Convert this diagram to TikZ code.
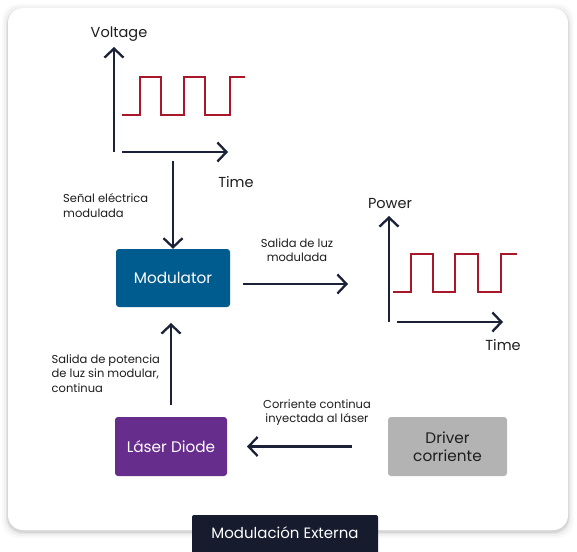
\documentclass[tikz,border=0pt]{standalone}
\usepackage{fontspec}
\setmainfont{Poppins}
\usetikzlibrary{arrows.meta}
\definecolor{navy}{HTML}{1B2238}
\definecolor{wave}{HTML}{A8172A}
\definecolor{modblue}{HTML}{005B8E}
\definecolor{laserpurple}{HTML}{672D8C}
\definecolor{drivergray}{HTML}{B3B3B3}
\definecolor{tagnavy}{HTML}{161C2E}
\definecolor{txt}{HTML}{1E1E1E}
\tikzset{
  x=1pt, y=-1pt,
  axis/.style={draw=navy, line width=2.6pt, -{Straight Barb[length=9pt,width=19pt,line width=2.3pt]}},
  conn/.style={draw=navy, line width=2.6pt, -{Straight Barb[length=9pt,width=19pt,line width=2.3pt]}},
  sq/.style={draw=wave, line width=2pt},
  boxstyle/.style={rounded corners=3pt, minimum width=113pt, minimum height=59pt, inner sep=0pt, align=center, font=\fontsize{15.3}{18.5}\selectfont},
  lbl/.style={text=txt, font=\fontsize{11.5}{14.5}\selectfont, inner sep=0pt},
  axlbl/.style={text=txt, font=\fontsize{14.5}{16}\selectfont, inner sep=0pt},
}
\begin{document}
\begin{tikzpicture}
\useasboundingbox (0,0) rectangle (577,551);
\fill[white] (0,0) rectangle (577,551);
% card shadow
\foreach \d/\o in {6/0.02,4/0.03,2/0.05,1/0.06}{
  \fill[black, opacity=\o, rounded corners=16pt] (8-\d,8-\d+2) rectangle (568+\d,530+\d+2);
}
\fill[white, rounded corners=15pt] (8,8) rectangle (568,530);

% Voltage plot
\node[axlbl] (vlab) at (119,34) {Voltage};
\coordinate (vo) at (114,152);
\coordinate (vtop) at (114,47);
\coordinate (vxs) at (122,152);
\coordinate (vxe) at (228,152);
\draw[axis] (vo) -- (vtop);
\draw[axis] (vxs) -- (vxe);
\node[axlbl] (vtime) at (236,182) {Time};
\draw[sq] (122,115) -- (140,115) -- (140,77) -- (161,77) -- (161,115) -- (184,115) -- (184,77) -- (205,77) -- (205,115) -- (230,115) -- (230,77) -- (245,77);

% Power plot
\node[axlbl] (plab) at (390,204) {Power};
\coordinate (po) at (389,322);
\coordinate (ptop) at (389,216);
\coordinate (pxs) at (397,322);
\coordinate (pxe) at (503,322);
\draw[axis] (po) -- (ptop);
\draw[axis] (pxs) -- (pxe);
\node[axlbl] (ptime) at (503,345) {Time};
\draw[sq] (393,292) -- (411,292) -- (411,254) -- (433,254) -- (433,292) -- (455,292) -- (455,254) -- (478,254) -- (478,292) -- (501,292) -- (501,254) -- (517,254);

% Boxes
\node[boxstyle, fill=modblue, text=white, minimum width=114pt, minimum height=58pt] (mod) at (173,278) {Modulator};
\node[boxstyle, fill=laserpurple, text=white, minimum width=112pt] (laser) at (171,446.5) {Láser Diode};
\node[boxstyle, fill=drivergray, text=txt, minimum width=119pt] (driver) at (447.5,446.5) {Driver\\corriente};

% Connectors
\coordinate (sigtop) at (173,161);
\draw[conn] (sigtop) -- (mod.north);
\coordinate (modoutstart) at (243,284);
\coordinate (modout) at (348,284);
\draw[conn] (modoutstart) -- (modout);
\coordinate (laserup) at (171,405);
\coordinate (modbot) at (171,323);
\draw[conn] (laserup) -- (modbot);
\coordinate (drvl) at (352,446.5);
\coordinate (lasr) at (247,446.5);
\draw[conn] (drvl) -- (lasr);

% Labels
\node[lbl, anchor=west, align=left] (l1) at (63,205.5) {Señal eléctrica\\modulada};
\node[lbl, align=center] (l2) at (297,250) {Salida de luz\\modulada};
\node[lbl, anchor=west, align=left] (l3) at (51.5,373.5) {Salida de potencia\\de luz sin modular,\\continua};
\node[lbl, align=center] (l4) at (317,412.5) {Corriente continua\\inyectada al láser};

% Bottom tag
\fill[tagnavy, rounded corners=2pt] (192,515) rectangle (378,555);
\node[text=white, font=\fontsize{15}{17}\selectfont] (tag) at (285,532.5) {Modulación Externa};
\end{tikzpicture}
\end{document}
